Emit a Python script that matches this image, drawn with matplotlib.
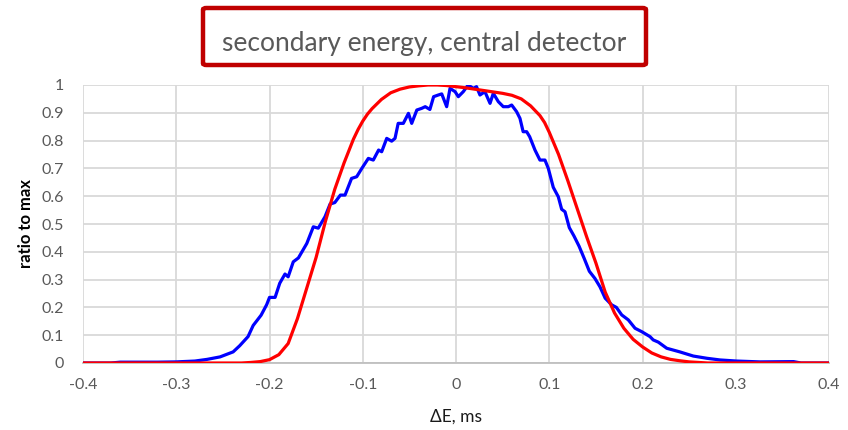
import matplotlib
matplotlib.use("Agg")
import matplotlib.pyplot as plt
from matplotlib.patches import FancyBboxPatch

plt.rcParams['font.family'] = ['Lato', 'DejaVu Sans']

title = "secondary energy, central detector"
x_label = "\u0394E, ms"
y_label = "ratio to max"
x_ticks = [-0.4, -0.3, -0.2, -0.1, 0, 0.1, 0.2, 0.3, 0.4]
x_tick_labels = ["-0.4", "-0.3", "-0.2", "-0.1", "0", "0.1", "0.2", "0.3", "0.4"]
y_ticks = [0, 0.1, 0.2, 0.3, 0.4, 0.5, 0.6, 0.7, 0.8, 0.9, 1.0]
y_tick_labels = ["0", "0.1", "0.2", "0.3", "0.4", "0.5", "0.6", "0.7", "0.8", "0.9", "1"]

# red series (smooth)
red_x = [-0.40, -0.30, -0.23, -0.22, -0.21, -0.20, -0.19, -0.18, -0.17, -0.16, -0.15,
         -0.14, -0.13, -0.12, -0.11, -0.105, -0.10, -0.095, -0.09, -0.08, -0.07, -0.06, -0.05, -0.04,
         -0.03, -0.02, -0.01, 0.00, 0.01, 0.02, 0.03, 0.04, 0.05, 0.06, 0.07, 0.08,
         0.09, 0.095, 0.10, 0.105, 0.11, 0.12, 0.13, 0.14, 0.15, 0.16, 0.17, 0.18, 0.19, 0.20, 0.21,
         0.22, 0.23, 0.24, 0.25, 0.26, 0.27, 0.40]
red_y = [0.0, 0.0, 0.0, 0.002, 0.005, 0.012, 0.03, 0.07, 0.16, 0.27, 0.38,
         0.51, 0.625, 0.72, 0.805, 0.84, 0.87, 0.895, 0.915, 0.948, 0.972, 0.985, 0.993, 0.997,
         1.0, 1.0, 0.998, 0.994, 0.99, 0.985, 0.98, 0.975, 0.97, 0.963, 0.95, 0.925,
         0.89, 0.865, 0.83, 0.79, 0.75, 0.655, 0.555, 0.455, 0.36, 0.255, 0.18, 0.125, 0.085, 0.058, 0.036,
         0.022, 0.013, 0.008, 0.004, 0.002, 0.0, 0.0]

# blue series (noisy)
blue_x = [-0.40, -0.37, -0.36, -0.34, -0.32, -0.30, -0.28, -0.267, -0.253, -0.239,
          -0.232, -0.223, -0.2175, -0.209, -0.203, -0.2, -0.194, -0.189, -0.1834, -0.18,
          -0.1745, -0.169, -0.16, -0.153, -0.1477, -0.1405, -0.135, -0.13, -0.124, -0.119,
          -0.112, -0.1065, -0.101, -0.094, -0.0887, -0.083, -0.0797, -0.0743, -0.069, -0.0654,
          -0.062, -0.0565, -0.051, -0.0475, -0.042, -0.0368, -0.033, -0.028, -0.024, -0.019,
          -0.0153, -0.01, -0.0064, -0.001, 0.0025, 0.0078, 0.013, 0.0186, 0.022, 0.0257,
          0.031, 0.0365, 0.04, 0.0454, 0.0507, 0.0561, 0.0597, 0.065, 0.0686, 0.072,
          0.0758, 0.079, 0.0847, 0.09, 0.0954, 0.099, 0.1043, 0.1097, 0.1133, 0.1169,
          0.1215, 0.1265, 0.132, 0.1375, 0.143, 0.149, 0.1544, 0.16, 0.167, 0.172,
          0.1777, 0.1848, 0.192, 0.199, 0.208, 0.2115, 0.217, 0.226, 0.24, 0.2545,
          0.269, 0.283, 0.301, 0.326, 0.362, 0.37, 0.40]
blue_y = [0.0, 0.0, 0.003, 0.003, 0.003, 0.004, 0.007, 0.013, 0.022, 0.04,
          0.062, 0.095, 0.135, 0.172, 0.21, 0.236, 0.236, 0.287, 0.32, 0.31,
          0.364, 0.378, 0.43, 0.49, 0.485, 0.526, 0.572, 0.577, 0.604, 0.604,
          0.664, 0.67, 0.70, 0.736, 0.73, 0.766, 0.76, 0.808, 0.798, 0.808,
          0.862, 0.862, 0.898, 0.862, 0.91, 0.916, 0.922, 0.912, 0.958, 0.964,
          0.968, 0.922, 0.988, 0.976, 0.958, 0.976, 1.0, 0.988, 0.994, 0.964,
          0.976, 0.934, 0.97, 0.94, 0.922, 0.922, 0.928, 0.904, 0.88, 0.832,
          0.832, 0.814, 0.766, 0.73, 0.73, 0.70, 0.632, 0.598, 0.553, 0.544,
          0.487, 0.457, 0.42, 0.376, 0.33, 0.304, 0.274, 0.233, 0.209, 0.2,
          0.173, 0.155, 0.125, 0.113, 0.095, 0.083, 0.075, 0.053, 0.04, 0.025,
          0.017, 0.011, 0.007, 0.004, 0.005, 0.0, 0.0]

fig = plt.figure(figsize=(8.48, 4.30), dpi=100)
ax = fig.add_axes([83 / 848, 1 - 363 / 430, (829 - 83) / 848, (363 - 85) / 430])

ax.plot(blue_x, blue_y, color="#0000ff", lw=2.3, solid_joinstyle="round", zorder=3)
ax.plot(red_x, red_y, color="#ff0000", lw=2.3, solid_joinstyle="round", zorder=4)

ax.set_xlim(-0.4, 0.4)
ax.set_ylim(0, 1)
ax.set_xticks(x_ticks)
ax.set_xticklabels(x_tick_labels)
ax.set_yticks(y_ticks)
ax.set_yticklabels(y_tick_labels)
ax.grid(True, color="#d9d9d9", lw=1.3, zorder=0)
ax.set_axisbelow(True)
for s in ["top", "right", "left"]:
    ax.spines[s].set_visible(False)
ax.spines["bottom"].set_color("#bfbfbf")
ax.spines["bottom"].set_linewidth(1.3)
ax.tick_params(axis="both", length=0, labelsize=11.5, colors="#595959", labelcolor="#595959")
ax.tick_params(axis="x", pad=11)
ax.tick_params(axis="y", pad=14)

ax.set_xlabel(x_label, fontsize=12.5, color="#1a1a1a", labelpad=12)
ax.set_ylabel(y_label, fontsize=12, color="#000000", fontweight="bold", labelpad=5)

box = FancyBboxPatch((203 / 848, 1 - 65 / 430), (646 - 203) / 848, (65 - 8) / 430,
                     boxstyle="round,pad=0,rounding_size=0.004", transform=fig.transFigure,
                     facecolor="white", edgecolor="#c00000", lw=3.2)
fig.patches.append(box)
fig.text(424.5 / 848, 1 - 44 / 430, title, ha="center", va="center",
         fontsize=19, color="#595959")

fig.savefig("out.png", dpi=100)
